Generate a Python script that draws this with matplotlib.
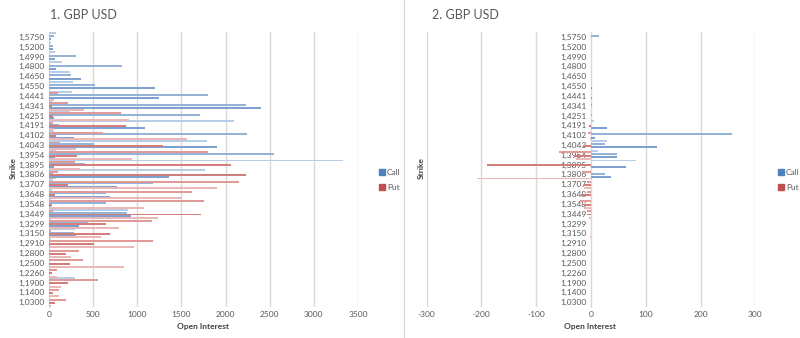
import matplotlib
matplotlib.use("Agg")
import matplotlib.pyplot as plt
from matplotlib.lines import Line2D
import numpy as np

# strike labels shown on the axis (every third category)
strike_labels = ["1,5750", "1,5200", "1,4990", "1,4800", "1,4650", "1,4550", "1,4441",
                 "1,4341", "1,4251", "1,4191", "1,4102", "1,4043", "1,3954", "1,3895",
                 "1,3806", "1,3707", "1,3648", "1,3548", "1,3449", "1,3299", "1,3150",
                 "1,2910", "1,2800", "1,2500", "1,2260", "1,1900", "1,1400", "1,0300"]

# chart 1 - open interest per strike (top to bottom, 84 strikes)
call_1 = [76, 57, 20, 20, 50, 40, 65, 310, 70, 150, 825, 75,
          240, 250, 360, 270, 525, 1200, 260, 1800, 1245, 30, 2230, 2400,
          240, 1710, 60, 2100, 115, 1085, 57, 2240, 285, 1790, 510, 1900,
          80, 2550, 70, 3330, 405, 60, 1770, 40, 1355, 40, 1175, 770,
          30, 645, 690, 20, 640, 20, 895, 880, 930, 20, 445, 345,
          295, 280, 305, 20, 10, 10, 15, 0, 0, 0, 0, 0,
          0, 0, 0, 300, 0, 0, 0, 0, 0, 0, 0, 0]
put_1 = [0, 0, 0, 0, 0, 0, 0, 0, 0, 0, 0, 0,
         0, 0, 0, 0, 0, 0, 100, 0, 57, 220, 30, 400,
         810, 40, 905, 50, 870, 50, 610, 80, 1560, 120, 1295, 310,
         1800, 317, 935, 300, 2060, 355, 100, 2235, 80, 2150, 210, 1900,
         1615, 66, 1510, 1760, 30, 1075, 40, 1720, 1235, 1170, 640, 790,
         20, 690, 585, 1180, 505, 965, 340, 195, 250, 380, 240, 855,
         90, 30, 90, 560, 210, 135, 115, 50, 110, 190, 65, 20]

# chart 2 - change per strike
call_2 = [0, 14, 0, 0, 0, 0, 0, 0, 0, 0, 0, 0,
          0, 0, 0, 0, 0, 2, 0, 0, 2, 0, 1, 0,
          0, 1, 0, 5, 0, 30, 0, 258, 7, 30, 25, 120,
          13, 48, 48, 83, 0, 63, 0, 25, 37, 0, 0, 0,
          0, 0, 0, 0, 0, 0, 0, 0, 0, 0, 0, 0,
          0, 0, 0, 0, 0, 0, 0, 0, 0, 0, 0, 0,
          0, 0, 0, 0, 0, 0, 0, 0, 0, 0, 0, 0]
put_2 = [0, 0, 0, 0, 0, 0, 0, 0, 0, 0, 0, 0,
         0, 0, 0, 0, 0, 0, 0, 0, 0, 0, 0, 0,
         0, 0, 0, 0, -3, 0, -5, 0, -2, 0, -15, 0,
         -58, -31, -28, 0, -189, 0, -16, 0, -208, -7, -13, -12,
         -8, -19, 0, -20, -13, -13, -7, -7, -3, 0, 0, 0,
         0, 0, -2, 0, 0, 0, 0, 0, 0, 0, 0, 0,
         0, 0, 0, 0, 0, 0, 0, 0, 0, 0, 0, 0]

blues = ["#b8cde7", "#95b3d7", "#7ea1cf"]
reds = ["#eab8b7", "#e09a98", "#d47e7c"]
grid_c = "#d9d9d9"
txt_c = "#595959"
plt.rcParams['font.family'] = ['Lato', 'DejaVu Sans']

fig = plt.figure(figsize=(8, 3.38), dpi=100)
ax1 = fig.add_axes([49 / 800, 1 - 307 / 338, 309 / 800, 275 / 338])
ax2 = fig.add_axes([426.7 / 800, 1 - 307 / 338, 328.6 / 800, 275 / 338])

n = len(call_1)
pos = np.arange(n)
bcol = [blues[i % 3] for i in range(n)]
rcol = [reds[(i + 1) % 3] for i in range(n)]


def style(ax, calls, puts, xlim, xticks):
    ax.barh(pos - 0.25, calls, height=0.6, color=bcol, zorder=3, antialiased=False)
    ax.barh(pos + 0.25, puts, height=0.6, color=rcol, zorder=3, antialiased=False)
    ax.set_ylim(n - 0.5, -0.5)
    ax.set_xlim(*xlim)
    ax.set_xticks(xticks)
    ax.set_xticklabels([str(t) for t in xticks])
    ax.set_yticks(pos[1::3])
    ax.set_yticklabels(strike_labels)
    ax.tick_params(axis='both', length=0, labelsize=6, colors=txt_c, pad=3)
    ax.grid(axis='x', color=grid_c, lw=1, zorder=0)
    for s in ax.spines.values():
        s.set_visible(False)
    ax.spines['left'].set_visible(True)
    ax.spines['left'].set_color(grid_c)


style(ax1, call_1, put_1, (0, 3500), [0, 500, 1000, 1500, 2000, 2500, 3000, 3500])
style(ax2, call_2, put_2, (-300, 300), [-300, -200, -100, 0, 100, 200, 300])
ax2.spines['left'].set_position(('data', 0))

# titles and axis titles
fig.text(50 / 800, 1 - 15 / 338, "1. GBP USD", fontsize=9, color=txt_c, va='center')
fig.text(432 / 800, 1 - 15 / 338, "2. GBP USD", fontsize=9, color=txt_c, va='center')
for x in (13, 421):
    fig.text(x / 800, 1 - 168 / 338, "Strike", rotation=90, fontsize=6, fontweight='bold',
             color="#404040", ha='center', va='center')
for x in (203, 590):
    fig.text(x / 800, 1 - 326 / 338, "Open Interest", fontsize=6, fontweight='bold',
             color="#404040", ha='center', va='center')

# legends
for lx in (382, 781):
    for ly, lab, c in ((172, "Call", "#4f81bd"), (187, "Put", "#c0504d")):
        fig.add_artist(Line2D([lx / 800], [1 - ly / 338], marker='s', markersize=4,
                              color=c, lw=0, transform=fig.transFigure))
        fig.text((lx + 5) / 800, 1 - ly / 338, lab, fontsize=6, color=txt_c, va='center')

# divider between the two charts
fig.add_artist(Line2D([404 / 800, 404 / 800], [0, 1], color="#d9d9d9", lw=1,
                      transform=fig.transFigure))

fig.savefig("out.png", dpi=100)
